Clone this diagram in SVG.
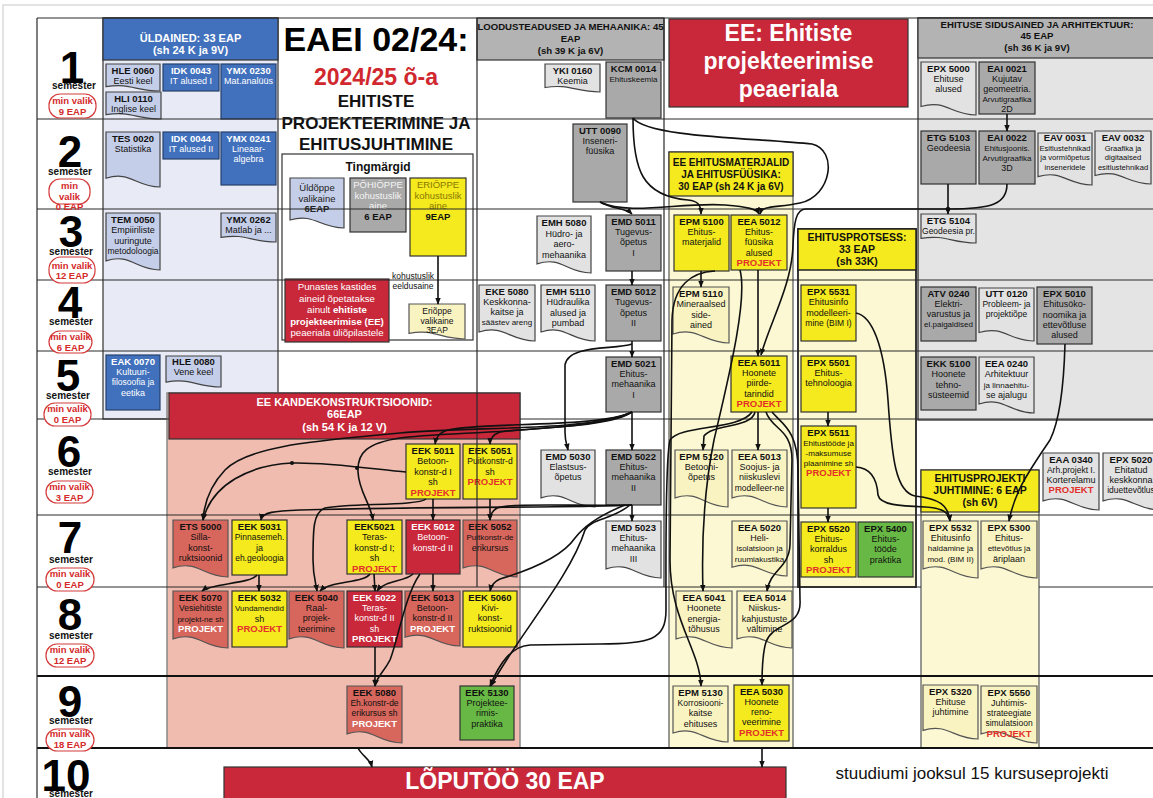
<svg xmlns="http://www.w3.org/2000/svg" width="1153" height="798" viewBox="0 0 1153 798">
<style>
text{font-family:"Liberation Sans",Arial,sans-serif}
.n{font-size:9px;text-anchor:middle;fill:#111}
.b{font-weight:bold;font-size:9.5px}
.s{font-size:8px}
.w{fill:#fff}
.pr{fill:#e3302b;font-weight:bold;font-size:9.5px}
.pw{fill:#fff;font-weight:bold;font-size:9.5px}
.hd{font-weight:bold;text-anchor:middle;fill:#111}
.blue{fill:#4171bd;stroke:#27406a;stroke-width:1.2}
.lav{fill:#c5cee8;stroke:#444;stroke-width:1.2}
.gray{fill:#a9a9a9;stroke:#333;stroke-width:1.2}
.lgray{fill:#e2e2e2;stroke:#444;stroke-width:1.2}
.yel{fill:#f4ea1e;stroke:#333;stroke-width:1.2}
.lyel{fill:#f9f3c2;stroke:#555;stroke-width:1.2}
.red{fill:#c8283a;stroke:#333;stroke-width:1.2}
.sal{fill:#d7665c;stroke:#555;stroke-width:1.2}
.grn{fill:#67b844;stroke:#333;stroke-width:1.2}
.gl{stroke:#2a2a2a;stroke-width:1.2;fill:none}
.gt{stroke:#111;stroke-width:2.2;fill:none}
.dg{font-size:44px;font-weight:bold;text-anchor:middle;fill:#000}
.sm{font-size:10px;font-weight:bold;text-anchor:middle;fill:#111}
.pill{fill:#fff;stroke:#d43a3a;stroke-width:1.2}
.pt{font-size:9.5px;font-weight:bold;text-anchor:middle;fill:#d42a2a}
.c{fill:none;stroke:#111;stroke-width:1.6;marker-end:url(#ah)}
</style>
<defs>
<symbol id="doc" viewBox="0 0 100 100" preserveAspectRatio="none" overflow="visible">
<path d="M0,0 H100 V100 C55,100 45,70 0,84 Z" vector-effect="non-scaling-stroke"/>
</symbol>
<marker id="ah" viewBox="0 0 10 10" refX="9" refY="5" markerWidth="7" markerHeight="7" markerUnits="userSpaceOnUse" orient="auto"><path d="M0,1 L10,5 L0,9 z" fill="#111"/></marker>
</defs>
<rect x="0" y="0" width="1153" height="798" fill="#fff"/>
<rect x="3" y="5" width="1160" height="800" fill="none" stroke="#d0d0d0" stroke-width="1.2"/>

<g id="regions">
<rect x="103" y="18" width="175" height="401" fill="#e8ebf6" stroke="#333" stroke-width="1.2"/>
<rect x="918" y="18" width="240" height="402" fill="#e4e4e4" stroke="#333" stroke-width="1.3"/>
<rect x="669" y="152" width="124" height="596" fill="#fbf8d3" stroke="#555" stroke-width="1.2"/>
<rect x="798" y="229" width="118" height="358" fill="#fbf8d3" stroke="#222" stroke-width="1.8"/>
<rect x="921" y="470" width="118" height="278" fill="#fbf8d3" stroke="#555" stroke-width="1.2"/>
<rect x="167" y="393" width="353" height="355" fill="#efbcaf" stroke="#888" stroke-width="1.5"/>
<rect x="282" y="154" width="191" height="186" fill="#fff" stroke="#333" stroke-width="1.2"/>
</g>

<g id="hdr-uldained"><rect x="103" y="18" width="175" height="42" fill="#4171bd" stroke="#333" stroke-width="1.2"/>
<text class="hd" x="190.5" y="42" font-size="11" style="fill:#fff">ÜLDAINED: 33 EAP</text>
<text class="hd" x="190.5" y="54" font-size="11" style="fill:#fff">(sh 24 K ja 9V)</text></g>
<g id="hdr-loodus"><rect x="477" y="18" width="187" height="42" fill="#b3b3b3" stroke="#333" stroke-width="1.2"/>
<text class="hd" x="570.5" y="30" font-size="9.6">LOODUSTEADUSED JA MEHAANIKA: 45</text>
<text class="hd" x="570.5" y="42" font-size="9.6">EAP</text>
<text class="hd" x="570.5" y="54" font-size="9.6">(sh 39 K ja 6V)</text></g>
<g id="hdr-ee"><rect x="669" y="19" width="239" height="88" fill="#c8283a" stroke="#333" stroke-width="1.2"/>
<text class="hd" x="788.5" y="41" font-size="23" style="fill:#fff">EE: Ehitiste</text>
<text class="hd" x="788.5" y="69" font-size="23" style="fill:#fff">projekteerimise</text>
<text class="hd" x="788.5" y="97" font-size="23" style="fill:#fff">peaeriala</text></g>
<g id="hdr-sidus"><rect x="918" y="18" width="240" height="40" fill="#b3b3b3" stroke="#333" stroke-width="1.2"/>
<text class="hd" x="1037" y="28" font-size="9.6">EHITUSE SIDUSAINED JA ARHITEKTUUR:</text>
<text class="hd" x="1037" y="39" font-size="9.6">45 EAP</text>
<text class="hd" x="1037" y="51" font-size="9.6">(sh 36 K ja 9V)</text></g>
<g id="hdr-mat"><rect x="669" y="152" width="124" height="44" fill="#f4ea1e" stroke="#333" stroke-width="1.2"/>
<text class="hd" x="731" y="166" font-size="10">EE EHITUSMATERJALID</text>
<text class="hd" x="731" y="178" font-size="10">JA EHITUSFÜÜSIKA:</text>
<text class="hd" x="731" y="190" font-size="10">30 EAP (sh 24 K ja 6V)</text></g>
<g id="hdr-protsess"><rect x="798" y="229" width="118" height="41" fill="#f4ea1e" stroke="#222" stroke-width="1.5"/>
<text class="hd" x="857" y="241" font-size="10.5">EHITUSPROTSESS:</text>
<text class="hd" x="857" y="253" font-size="10.5">33 EAP</text>
<text class="hd" x="857" y="265" font-size="10.5">(sh 33K)</text></g>
<g id="hdr-juht"><rect x="921" y="470" width="118" height="42" fill="#f4ea1e" stroke="#333" stroke-width="1.2"/>
<text class="hd" x="980" y="482" font-size="10.5">EHITUSPROJEKTI</text>
<text class="hd" x="980" y="494" font-size="10.5">JUHTIMINE: 6 EAP</text>
<text class="hd" x="980" y="506" font-size="10.5">(sh 6V)</text></g>

<g id="title">
<text class="hd" x="376" y="51" font-size="34" style="fill:#000">EAEI 02/24:</text>
<text class="hd" x="376" y="85" font-size="23" style="fill:#d0282e">2024/25 õ-a</text>
<text class="hd" x="376" y="107" font-size="17">EHITISTE</text>
<text class="hd" x="376" y="129" font-size="17">PROJEKTEERIMINE JA</text>
<text class="hd" x="376" y="150" font-size="17">EHITUSJUHTIMINE</text>
</g>

<g id="legend">
<text class="hd" x="378" y="171" font-size="12">Tingmärgid</text>
<g id="lg-uld"><use href="#doc" class="lav" x="290" y="178" width="54" height="50"/>
<text class="n" x="317" y="191" style="font-size:9.5px;fill:#222">Üldõppe<tspan x="317" dy="10.5">valikaine</tspan><tspan x="317" dy="10.5" font-weight="bold">6EAP</tspan></text></g>
<g id="lg-pohi"><rect class="gray" x="350" y="178" width="56" height="54"/>
<text class="n" x="378" y="188" style="font-size:9.5px;fill:#f4f4f4">PÕHIÕPPE<tspan x="378" dy="10.5">kohustuslik</tspan><tspan x="378" dy="10.5">aine</tspan><tspan x="378" dy="10.5" font-weight="bold" style="fill:#111">6 EAP</tspan></text></g>
<g id="lg-eri"><rect class="yel" x="410" y="178" width="56" height="78"/>
<text class="n" x="438" y="188" style="font-size:9.5px;fill:#8a7800">ERIÕPPE<tspan x="438" dy="10.5">kohustuslik</tspan><tspan x="438" dy="10.5">aine</tspan><tspan x="438" dy="10.5" font-weight="bold" style="fill:#111">9EAP</tspan></text></g>
<g id="lg-erival"><use href="#doc" class="lyel" x="409" y="304" width="56" height="35"/>
<text class="n" x="437" y="314" style="font-size:8.5px">Eriõppe<tspan x="437" dy="9.5">valikaine</tspan><tspan x="437" dy="9.5">3EAP</tspan></text></g>
<text class="n" x="413" y="279" style="font-size:8.5px">kohustuslik<tspan x="413" dy="10">eeldusaine</tspan></text>
<g id="lg-red"><rect class="red" x="285" y="279" width="104" height="63"/>
<text class="n" x="337" y="290" style="font-size:9.7px;fill:#fff">Punastes kastides<tspan x="337" dy="11.5">aineid õpetatakse</tspan><tspan x="337" dy="11.5">ainult <tspan font-weight="bold">ehitiste</tspan></tspan><tspan x="337" dy="11.5" font-weight="bold">projekteerimise (EE)</tspan><tspan x="337" dy="11.5">peaeriala üliõpilastele</tspan></text></g>
</g>

<g id="hdr-kande"><rect x="169" y="393" width="351" height="46" fill="#c8283a" stroke="#333" stroke-width="1.2"/>
<text class="hd" x="344.5" y="406" font-size="11" style="fill:#fff">EE KANDEKONSTRUKTSIOONID:</text>
<text class="hd" x="344.5" y="418" font-size="11" style="fill:#fff">66EAP</text>
<text class="hd" x="344.5" y="431" font-size="11" style="fill:#fff">(sh 54 K ja 12 V)</text></g>

<g id="nodes">
<g id="HLE0060"><use href="#doc" class="lav" x="106" y="64" width="54" height="27"/><text class="n" x="133" y="74"><tspan class="b">HLE 0060</tspan><tspan x="133" dy="10.3">Eesti keel</tspan></text></g>
<g id="HLI0110"><use href="#doc" class="lav" x="106" y="92" width="55" height="27"/><text class="n" x="133.5" y="101.5"><tspan class="b">HLI 0110</tspan><tspan x="133.5" dy="10.3">Inglise keel</tspan></text></g>
<g id="IDK0043"><rect class="blue" x="163" y="64" width="56" height="27"/><text class="n w" x="191" y="74"><tspan class="b">IDK 0043</tspan><tspan x="191" dy="10.3">IT alused I</tspan></text></g>
<g id="YMX0230"><rect class="blue" x="221" y="64" width="55" height="55"/><text class="n w" x="248.5" y="74"><tspan class="b">YMX 0230</tspan><tspan x="248.5" dy="10.3">Mat.analüüs</tspan></text></g>
<g id="YKI0160"><use href="#doc" class="lgray" x="545" y="64" width="55" height="28"/><text class="n" x="572.5" y="73.5"><tspan class="b">YKI 0160</tspan><tspan x="572.5" dy="10.3">Keemia</tspan></text></g>
<g id="KCM0014"><rect class="gray" x="606" y="62" width="55" height="56"/><text class="n" x="633.5" y="72"><tspan class="b">KCM 0014</tspan><tspan x="633.5" dy="10.3" class="s">Ehituskeemia</tspan></text></g>
<g id="EPX5000"><use href="#doc" class="lgray" x="921" y="62" width="55" height="53"/><text class="n" x="948.5" y="71.5"><tspan class="b">EPX 5000</tspan><tspan x="948.5" dy="10.3">Ehituse</tspan><tspan x="948.5" dy="10.3">alused</tspan></text></g>
<g id="EAI0021"><rect class="gray" x="979" y="62" width="56" height="52"/><text class="n" x="1007" y="71.5"><tspan class="b">EAI 0021</tspan><tspan x="1007" dy="10.2">Kujutav</tspan><tspan x="1007" dy="10.2">geomeetria.</tspan><tspan x="1007" dy="10.2" class="s">Arvutigraafika</tspan><tspan x="1007" dy="10.2">2D</tspan></text></g>

<g id="TES0020"><use href="#doc" class="lav" x="106" y="132" width="54" height="55"/><text class="n" x="133" y="141.5"><tspan class="b">TES 0020</tspan><tspan x="133" dy="10.3">Statistika</tspan></text></g>
<g id="IDK0044"><rect class="blue" x="163" y="132" width="56" height="27"/><text class="n w" x="191" y="141.5"><tspan class="b">IDK 0044</tspan><tspan x="191" dy="10.3">IT alused II</tspan></text></g>
<g id="YMX0241"><rect class="blue" x="221" y="132" width="55" height="53"/><text class="n w" x="248.5" y="141.5"><tspan class="b">YMX 0241</tspan><tspan x="248.5" dy="10.3">Lineaar-</tspan><tspan x="248.5" dy="10.3">algebra</tspan></text></g>
<g id="UTT0090"><rect class="gray" x="573" y="124" width="54" height="78"/><text class="n" x="600" y="133.5"><tspan class="b">UTT 0090</tspan><tspan x="600" dy="10.3">Inseneri-</tspan><tspan x="600" dy="10.3">füüsika</tspan></text></g>
<g id="ETG5103"><rect class="gray" x="921" y="131" width="55" height="53"/><text class="n" x="948.5" y="140.5"><tspan class="b">ETG 5103</tspan><tspan x="948.5" dy="10.3">Geodeesia</tspan></text></g>
<g id="EAI0022"><rect class="gray" x="979" y="131" width="56" height="53"/><text class="n" x="1007" y="140.5"><tspan class="b">EAI 0022</tspan><tspan x="1007" dy="10.3" class="s">Ehitusjoonis.</tspan><tspan x="1007" dy="10.3" class="s">Arvutigraafika</tspan><tspan x="1007" dy="10.3">3D</tspan></text></g>
<g id="EAV0031"><use href="#doc" class="lgray" x="1038" y="133" width="54" height="52"/><text class="n" x="1065" y="141"><tspan class="b">EAV 0031</tspan><tspan x="1065" dy="9.6" style="font-size:7.6px">Esitlustehnikad</tspan><tspan x="1065" dy="9.6" style="font-size:7.6px">ja vormiõpetus</tspan><tspan x="1065" dy="9.6" style="font-size:7.6px">inseneridele</tspan></text></g>
<g id="EAV0032"><use href="#doc" class="lgray" x="1095" y="131" width="56" height="53"/><text class="n" x="1123" y="141"><tspan class="b">EAV 0032</tspan><tspan x="1123" dy="9.6" style="font-size:7.6px">Graafika ja</tspan><tspan x="1123" dy="9.6" style="font-size:7.6px">digitaalsed</tspan><tspan x="1123" dy="9.6" style="font-size:7.6px">esitlustehnikad</tspan></text></g>

<g id="TEM0050"><use href="#doc" class="lav" x="106" y="213" width="54" height="57"/><text class="n" x="133" y="223"><tspan class="b">TEM 0050</tspan><tspan x="133" dy="10.4">Empiiriliste</tspan><tspan x="133" dy="10.4">uuringute</tspan><tspan x="133" dy="10.4" style="font-size:8.5px">metodoloogia</tspan></text></g>
<g id="YMX0262"><use href="#doc" class="lav" x="221" y="213" width="55" height="29"/><text class="n" x="248.5" y="223"><tspan class="b">YMX 0262</tspan><tspan x="248.5" dy="10.4">Matlab ja ...</tspan></text></g>
<g id="EMH5080"><use href="#doc" class="lgray" x="537" y="216" width="54" height="57"/><text class="n" x="564" y="226"><tspan class="b">EMH 5080</tspan><tspan x="564" dy="10.5">Hüdro- ja</tspan><tspan x="564" dy="10.5">aero-</tspan><tspan x="564" dy="10.5">mehaanika</tspan></text></g>
<g id="EMD5011"><rect class="gray" x="606" y="215" width="55" height="56"/><text class="n" x="633.5" y="224.5"><tspan class="b">EMD 5011</tspan><tspan x="633.5" dy="10.4">Tugevus-</tspan><tspan x="633.5" dy="10.4">õpetus</tspan><tspan x="633.5" dy="10.4">I</tspan></text></g>
<g id="EPM5100"><rect class="yel" x="674" y="215" width="55" height="56"/><text class="n" x="701.5" y="224.5"><tspan class="b">EPM 5100</tspan><tspan x="701.5" dy="10.4">Ehitus-</tspan><tspan x="701.5" dy="10.4">materjalid</tspan></text></g>
<g id="EEA5012"><rect class="yel" x="731" y="215" width="56" height="55"/><text class="n" x="759" y="224.5"><tspan class="b">EEA 5012</tspan><tspan x="759" dy="10.4">Ehitus-</tspan><tspan x="759" dy="10.4">füüsika</tspan><tspan x="759" dy="10.4">alused</tspan><tspan x="759" dy="10.4" class="pr">PROJEKT</tspan></text></g>
<g id="ETG5104"><use href="#doc" class="lgray" x="921" y="214" width="55" height="29"/><text class="n" x="948.5" y="224"><tspan class="b">ETG 5104</tspan><tspan x="948.5" dy="10.4" style="font-size:8.5px">Geodeesia pr.</tspan></text></g>

<g id="EKE5080"><use href="#doc" class="lgray" x="479" y="285" width="56" height="56"/><text class="n" x="507" y="295"><tspan class="b">EKE 5080</tspan><tspan x="507" dy="10">Keskkonna-</tspan><tspan x="507" dy="10">kaitse ja</tspan><tspan x="507" dy="10" class="s">säästev areng</tspan></text></g>
<g id="EMH5110"><use href="#doc" class="lgray" x="541" y="285" width="54" height="56"/><text class="n" x="568" y="295"><tspan class="b">EMH 5110</tspan><tspan x="568" dy="10.3">Hüdraulika</tspan><tspan x="568" dy="10.3">alused ja</tspan><tspan x="568" dy="10.3">pumbad</tspan></text></g>
<g id="EMD5012"><rect class="gray" x="606" y="285" width="55" height="56"/><text class="n" x="633.5" y="295"><tspan class="b">EMD 5012</tspan><tspan x="633.5" dy="10.4">Tugevus-</tspan><tspan x="633.5" dy="10.4">õpetus</tspan><tspan x="633.5" dy="10.4">II</tspan></text></g>
<g id="EPM5110"><use href="#doc" class="lyel" x="673" y="287" width="56" height="56"/><text class="n" x="701" y="297"><tspan class="b">EPM 5110</tspan><tspan x="701" dy="10.4">Mineraalsed</tspan><tspan x="701" dy="10.4">side-</tspan><tspan x="701" dy="10.4">ained</tspan></text></g>
<g id="EPX5531"><rect class="yel" x="801" y="285" width="55" height="56"/><text class="n" x="828.5" y="295"><tspan class="b">EPX 5531</tspan><tspan x="828.5" dy="10.4">Ehitusinfo</tspan><tspan x="828.5" dy="10.4">modelleeri-</tspan><tspan x="828.5" dy="10.4" style="font-size:8.5px">mine (BIM I)</tspan></text></g>
<g id="ATV0240"><rect class="gray" x="921" y="287" width="55" height="54"/><text class="n" x="948.5" y="296.5"><tspan class="b">ATV 0240</tspan><tspan x="948.5" dy="10.2">Elektri-</tspan><tspan x="948.5" dy="10.2">varustus ja</tspan><tspan x="948.5" dy="10.2" class="s">el.paigaldised</tspan></text></g>
<g id="UTT0120"><use href="#doc" class="lgray" x="979" y="288" width="55" height="53"/><text class="n" x="1006.5" y="297"><tspan class="b">UTT 0120</tspan><tspan x="1006.5" dy="10.2" style="font-size:8.5px">Probleem- ja</tspan><tspan x="1006.5" dy="10.2" style="font-size:8.5px">projektiõpe</tspan></text></g>
<g id="EPX5010"><rect class="gray" x="1037" y="287" width="55" height="57"/><text class="n" x="1064.5" y="297"><tspan class="b">EPX 5010</tspan><tspan x="1064.5" dy="10.3">Ehitusöko-</tspan><tspan x="1064.5" dy="10.3">noomika ja</tspan><tspan x="1064.5" dy="10.3">ettevõtluse</tspan><tspan x="1064.5" dy="10.3">alused</tspan></text></g>

<g id="EAK0070"><rect class="blue" x="106" y="355" width="54" height="55"/><text class="n w" x="133" y="364.5"><tspan class="b">EAK 0070</tspan><tspan x="133" dy="10.4">Kultuuri-</tspan><tspan x="133" dy="10.4" style="font-size:8.5px">filosoofia ja</tspan><tspan x="133" dy="10.4">eetika</tspan></text></g>
<g id="HLE0080"><use href="#doc" class="lav" x="166" y="356" width="55" height="31"/><text class="n" x="193.5" y="364.5"><tspan class="b">HLE 0080</tspan><tspan x="193.5" dy="10.4">Vene keel</tspan></text></g>
<g id="EMD5021"><rect class="gray" x="606" y="357" width="55" height="55"/><text class="n" x="633.5" y="366.5"><tspan class="b">EMD 5021</tspan><tspan x="633.5" dy="10.4">Ehitus-</tspan><tspan x="633.5" dy="10.4">mehaanika</tspan><tspan x="633.5" dy="10.4">I</tspan></text></g>
<g id="EEA5011"><rect class="yel" x="731" y="356" width="56" height="56"/><text class="n" x="759" y="365.5"><tspan class="b">EEA 5011</tspan><tspan x="759" dy="10.4">Hoonete</tspan><tspan x="759" dy="10.4">piirde-</tspan><tspan x="759" dy="10.4">tarindid</tspan><tspan x="759" dy="10.4" class="pr">PROJEKT</tspan></text></g>
<g id="EPX5501"><rect class="yel" x="801" y="356" width="55" height="56"/><text class="n" x="828.5" y="365.5"><tspan class="b">EPX 5501</tspan><tspan x="828.5" dy="10.4">Ehitus-</tspan><tspan x="828.5" dy="10.4">tehnoloogia</tspan></text></g>
<g id="EKK5100"><rect class="gray" x="921" y="357" width="55" height="53"/><text class="n" x="948.5" y="367"><tspan class="b">EKK 5100</tspan><tspan x="948.5" dy="10.4">Hoonete</tspan><tspan x="948.5" dy="10.4">tehno-</tspan><tspan x="948.5" dy="10.4">süsteemid</tspan></text></g>
<g id="EEA0240"><use href="#doc" class="lgray" x="979" y="357" width="55" height="56"/><text class="n" x="1006.5" y="367"><tspan class="b">EEA 0240</tspan><tspan x="1006.5" dy="10.4">Arhitektuur</tspan><tspan x="1006.5" dy="10.4" class="s">ja linnaehitu-</tspan><tspan x="1006.5" dy="10.4">se ajalugu</tspan></text></g>

<g id="EEK5011"><rect class="yel" x="406" y="444" width="54" height="55"/><text class="n" x="433" y="454"><tspan class="b">EEK 5011</tspan><tspan x="433" dy="10.4">Betoon-</tspan><tspan x="433" dy="10.4">konstr-d I</tspan><tspan x="433" dy="10.4">sh</tspan><tspan x="433" dy="10.4" class="pr">PROJEKT</tspan></text></g>
<g id="EEK5051"><rect class="yel" x="463" y="444" width="54" height="55"/><text class="n" x="490" y="454"><tspan class="b">EEK 5051</tspan><tspan x="490" dy="10.4" style="font-size:8.5px">Puitkonstr-d</tspan><tspan x="490" dy="10.4">sh</tspan><tspan x="490" dy="10.4" class="pr">PROJEKT</tspan></text></g>
<g id="EMD5030"><use href="#doc" class="lgray" x="541" y="450" width="54" height="57"/><text class="n" x="568" y="459.5"><tspan class="b">EMD 5030</tspan><tspan x="568" dy="10.4">Elastsus-</tspan><tspan x="568" dy="10.4">õpetus</tspan></text></g>
<g id="EMD5022"><rect class="gray" x="606" y="450" width="55" height="55"/><text class="n" x="633.5" y="459.5"><tspan class="b">EMD 5022</tspan><tspan x="633.5" dy="10.4">Ehitus-</tspan><tspan x="633.5" dy="10.4">mehaanika</tspan><tspan x="633.5" dy="10.4">II</tspan></text></g>
<g id="EPM5120"><use href="#doc" class="lyel" x="675" y="450" width="53" height="57"/><text class="n" x="701.5" y="459.5"><tspan class="b">EPM 5120</tspan><tspan x="701.5" dy="10.4">Betooni-</tspan><tspan x="701.5" dy="10.4">õpetus</tspan></text></g>
<g id="EEA5013"><use href="#doc" class="lyel" x="732" y="450" width="55" height="57"/><text class="n" x="759.5" y="459.5"><tspan class="b">EEA 5013</tspan><tspan x="759.5" dy="10.4">Soojus- ja</tspan><tspan x="759.5" dy="10.4">niiskuslevi</tspan><tspan x="759.5" dy="10.4" style="font-size:8.5px">modelleer-ne</tspan></text></g>
<g id="EPX5511"><rect class="yel" x="801" y="426" width="55" height="82"/><text class="n" x="828.5" y="436"><tspan class="b">EPX 5511</tspan><tspan x="828.5" dy="10" class="s">Ehitustööde ja</tspan><tspan x="828.5" dy="10" class="s">-maksumuse</tspan><tspan x="828.5" dy="10" class="s">plaanimine sh</tspan><tspan x="828.5" dy="10.4" class="pr">PROJEKT</tspan></text></g>
<g id="EAA0340"><use href="#doc" class="lgray" x="1043" y="453" width="56" height="57"/><text class="n" x="1071" y="462.5"><tspan class="b">EAA 0340</tspan><tspan x="1071" dy="10.2" style="font-size:8.5px">Arh.projekt I.</tspan><tspan x="1071" dy="10.2">Korterelamu</tspan><tspan x="1071" dy="10.4" class="pr">PROJEKT</tspan></text></g>
<g id="EPX5020"><use href="#doc" class="lgray" x="1103" y="453" width="57" height="57"/><text class="n" x="1131" y="462.5"><tspan class="b">EPX 5020</tspan><tspan x="1131" dy="10.2">Ehitatud</tspan><tspan x="1131" dy="10.2">keskkonna</tspan><tspan x="1131" dy="10.2" style="font-size:8.5px">iduettevõtlus</tspan></text></g>

<g id="ETS5000"><use href="#doc" class="sal" x="173" y="520" width="55" height="57"/><text class="n" x="200.5" y="530"><tspan class="b">ETS 5000</tspan><tspan x="200.5" dy="10.4">Silla-</tspan><tspan x="200.5" dy="10.4">konst-</tspan><tspan x="200.5" dy="10.4">ruktsioonid</tspan></text></g>
<g id="EEK5031"><rect class="yel" x="232" y="520" width="55" height="55"/><text class="n" x="259.5" y="530"><tspan class="b">EEK 5031</tspan><tspan x="259.5" dy="10.4" style="font-size:8.5px">Pinnasemeh.</tspan><tspan x="259.5" dy="10.4">ja</tspan><tspan x="259.5" dy="10.4" style="font-size:8.5px">eh.geoloogia</tspan></text></g>
<g id="EEK5021"><rect class="yel" x="347" y="520" width="55" height="54"/><text class="n" x="374.5" y="530"><tspan class="b">EEK5021</tspan><tspan x="374.5" dy="10.4">Teras-</tspan><tspan x="374.5" dy="10.4">konstr-d I;</tspan><tspan x="374.5" dy="10.4">sh</tspan><tspan x="374.5" dy="10.4" class="pr">PROJEKT</tspan></text></g>
<g id="EEK5012"><rect class="red" x="406" y="520" width="54" height="54"/><text class="n w" x="433" y="530"><tspan class="b">EEK 5012</tspan><tspan x="433" dy="10.4">Betoon-</tspan><tspan x="433" dy="10.4">konstr-d II</tspan></text></g>
<g id="EEK5052"><use href="#doc" class="sal" x="463" y="520" width="54" height="57"/><text class="n" x="490" y="530"><tspan class="b">EEK 5052</tspan><tspan x="490" dy="10.4" class="s">Puitkonstr-de</tspan><tspan x="490" dy="10.4">erikursus</tspan></text></g>
<g id="EMD5023"><use href="#doc" class="lgray" x="606" y="521" width="55" height="57"/><text class="n" x="633.5" y="530.5"><tspan class="b">EMD 5023</tspan><tspan x="633.5" dy="10.4">Ehitus-</tspan><tspan x="633.5" dy="10.4">mehaanika</tspan><tspan x="633.5" dy="10.4">III</tspan></text></g>
<g id="EEA5020"><use href="#doc" class="lyel" x="732" y="521" width="55" height="55"/><text class="n" x="759.5" y="530.5"><tspan class="b">EEA 5020</tspan><tspan x="759.5" dy="10.4">Heli-</tspan><tspan x="759.5" dy="10.4" class="s">isolatsioon ja</tspan><tspan x="759.5" dy="10.4" class="s">ruumiakustika</tspan></text></g>
<g id="EPX5520"><rect class="yel" x="801" y="522" width="55" height="55"/><text class="n" x="828.5" y="531.5"><tspan class="b">EPX 5520</tspan><tspan x="828.5" dy="10.4">Ehitus-</tspan><tspan x="828.5" dy="10.4">korraldus</tspan><tspan x="828.5" dy="10.4">sh</tspan><tspan x="828.5" dy="10.4" class="pr">PROJEKT</tspan></text></g>
<g id="EPX5400"><rect class="grn" x="858" y="522" width="55" height="55"/><text class="n" x="885.5" y="531.5"><tspan class="b">EPX 5400</tspan><tspan x="885.5" dy="10.4">Ehitus-</tspan><tspan x="885.5" dy="10.4">tööde</tspan><tspan x="885.5" dy="10.4">praktika</tspan></text></g>
<g id="EPX5532"><use href="#doc" class="lyel" x="923" y="521" width="55" height="57"/><text class="n" x="950.5" y="530.5"><tspan class="b">EPX 5532</tspan><tspan x="950.5" dy="10.4">Ehitusinfo</tspan><tspan x="950.5" dy="10.4" class="s">haldamine ja</tspan><tspan x="950.5" dy="10.4" class="s">mod. (BIM II)</tspan></text></g>
<g id="EPX5300"><use href="#doc" class="lyel" x="981" y="521" width="56" height="57"/><text class="n" x="1009" y="530.5"><tspan class="b">EPX 5300</tspan><tspan x="1009" dy="10.4">Ehitus-</tspan><tspan x="1009" dy="10.4" class="s">ettevõtlus ja</tspan><tspan x="1009" dy="10.4">äriplaan</tspan></text></g>

<g id="EEK5070"><use href="#doc" class="sal" x="173" y="591" width="55" height="57"/><text class="n" x="200.5" y="601"><tspan class="b">EEK 5070</tspan><tspan x="200.5" dy="10.4" style="font-size:8.5px">Vesiehitiste</tspan><tspan x="200.5" dy="10.4" class="s">projekt-ne sh</tspan><tspan x="200.5" dy="10.4" class="pw">PROJEKT</tspan></text></g>
<g id="EEK5032"><rect class="yel" x="232" y="591" width="55" height="56"/><text class="n" x="259.5" y="601"><tspan class="b">EEK 5032</tspan><tspan x="259.5" dy="10.4" class="s">Vundamendid</tspan><tspan x="259.5" dy="10.4">sh</tspan><tspan x="259.5" dy="10.4" class="pr">PROJEKT</tspan></text></g>
<g id="EEK5040"><use href="#doc" class="sal" x="289" y="591" width="55" height="57"/><text class="n" x="316.5" y="600.5"><tspan class="b">EEK 5040</tspan><tspan x="316.5" dy="10.4">Raal-</tspan><tspan x="316.5" dy="10.4">projek-</tspan><tspan x="316.5" dy="10.4">teerimine</tspan></text></g>
<g id="EEK5022"><rect class="red" x="347" y="591" width="55" height="56"/><text class="n w" x="374.5" y="600.5"><tspan class="b">EEK 5022</tspan><tspan x="374.5" dy="10.4">Teras-</tspan><tspan x="374.5" dy="10.4">konstr-d II</tspan><tspan x="374.5" dy="10.4">sh</tspan><tspan x="374.5" dy="10.4" class="pw">PROJEKT</tspan></text></g>
<g id="EEK5013"><use href="#doc" class="sal" x="405" y="591" width="55" height="55"/><text class="n" x="432.5" y="600.5"><tspan class="b">EEK 5013</tspan><tspan x="432.5" dy="10.4">Betoon-</tspan><tspan x="432.5" dy="10.4">konstr-d II</tspan><tspan x="432.5" dy="10.4" class="pw">PROJEKT</tspan></text></g>
<g id="EEK5060"><rect class="yel" x="463" y="591" width="54" height="56"/><text class="n" x="490" y="600.5"><tspan class="b">EEK 5060</tspan><tspan x="490" dy="10.4">Kivi-</tspan><tspan x="490" dy="10.4">konst-</tspan><tspan x="490" dy="10.4">ruktsioonid</tspan></text></g>
<g id="EEA5041"><use href="#doc" class="lyel" x="676" y="591" width="56" height="57"/><text class="n" x="704" y="601"><tspan class="b">EEA 5041</tspan><tspan x="704" dy="10.4">Hoonete</tspan><tspan x="704" dy="10.4">energia-</tspan><tspan x="704" dy="10.4">tõhusus</tspan></text></g>
<g id="EEA5014"><use href="#doc" class="lyel" x="737" y="591" width="55" height="57"/><text class="n" x="764.5" y="601"><tspan class="b">EEA 5014</tspan><tspan x="764.5" dy="10.4">Niiskus-</tspan><tspan x="764.5" dy="10.4">kahjustuste</tspan><tspan x="764.5" dy="10.4">vältimine</tspan></text></g>

<g id="EEK5080"><use href="#doc" class="sal" x="347" y="686" width="55" height="57"/><text class="n" x="374.5" y="695.5"><tspan class="b">EEK 5080</tspan><tspan x="374.5" dy="10.4" style="font-size:8.5px">Eh.konstr-de</tspan><tspan x="374.5" dy="10.4" style="font-size:8.5px">erikursus sh</tspan><tspan x="374.5" dy="10.4" class="pw">PROJEKT</tspan></text></g>
<g id="EEK5130"><rect class="grn" x="460" y="686" width="54" height="54"/><text class="n" x="487" y="695.5"><tspan class="b">EEK 5130</tspan><tspan x="487" dy="10.4">Projektee-</tspan><tspan x="487" dy="10.4">rimis-</tspan><tspan x="487" dy="10.4">praktika</tspan></text></g>
<g id="EPM5130"><use href="#doc" class="lyel" x="673" y="686" width="55" height="56"/><text class="n" x="700.5" y="695.5"><tspan class="b">EPM 5130</tspan><tspan x="700.5" dy="10.4" style="font-size:8.5px">Korrosiooni-</tspan><tspan x="700.5" dy="10.4">kaitse</tspan><tspan x="700.5" dy="10.4">ehituses</tspan></text></g>
<g id="EEA5030"><rect class="yel" x="734" y="685" width="55" height="56"/><text class="n" x="761.5" y="694.5"><tspan class="b">EEA 5030</tspan><tspan x="761.5" dy="10.3">Hoonete</tspan><tspan x="761.5" dy="10.3">reno-</tspan><tspan x="761.5" dy="10.3">veerimine</tspan><tspan x="761.5" dy="10.3" class="pr">PROJEKT</tspan></text></g>
<g id="EPX5320"><use href="#doc" class="lyel" x="923" y="685" width="55" height="54"/><text class="n" x="950.5" y="694.5"><tspan class="b">EPX 5320</tspan><tspan x="950.5" dy="10.4">Ehituse</tspan><tspan x="950.5" dy="10.4">juhtimine</tspan></text></g>
<g id="EPX5550"><use href="#doc" class="lyel" x="981" y="686" width="56" height="57"/><text class="n" x="1009" y="695.5"><tspan class="b">EPX 5550</tspan><tspan x="1009" dy="10.3">Juhtimis-</tspan><tspan x="1009" dy="10.3" style="font-size:8.5px">strateegiate</tspan><tspan x="1009" dy="10.3" style="font-size:8.5px">simulatsioon</tspan><tspan x="1009" dy="10.3" class="pr">PROJEKT</tspan></text></g>

<g id="LOPUTOO"><rect class="red" x="224" y="767" width="562" height="40"/><text class="hd" x="505" y="789" font-size="23" style="fill:#fff">LÕPUTÖÖ 30 EAP</text></g>
</g>

<text x="972" y="779" font-size="17" text-anchor="middle" fill="#111">stuudiumi jooksul 15 kursuseprojekti</text>

<g id="grid">
<path class="gl" d="M37,18 H1153"/>
<path class="gl" d="M37,119 H1153 M37,209 H1153 M37,280 H1153 M37,351 H1153 M37,419 H169 M520,419 H1153 M37,515 H1153 M37,587 H921 M1039,587 H1153"/>
<path class="gt" d="M37,676 H1153 M37,748 H1153"/>
<path class="gl" d="M37,18 V798 M477,18 V587 M664,18 V587"/>
</g>

<g id="semesters">
<text class="dg" x="72" y="83">1</text><text class="sm" x="74" y="89">semester</text>
<rect class="pill" x="49" y="94" width="47" height="24" rx="11"/><text class="pt" x="72.5" y="104">min valik</text><text class="pt" x="72.5" y="114.5">9 EAP</text>
<text class="dg" x="70" y="167">2</text><text class="sm" x="70" y="175">semester</text>
<rect class="pill" x="49" y="179" width="41" height="25" rx="11"/><text class="pt" x="69.5" y="189">min</text><text class="pt" x="69.5" y="199.5">valik</text><text class="pt" x="69.5" y="210">0 EAP</text>
<text class="dg" x="71" y="247">3</text><text class="sm" x="71" y="255">semester</text>
<rect class="pill" x="49" y="257" width="46" height="26" rx="12"/><text class="pt" x="72" y="268.5">min valik</text><text class="pt" x="72" y="279">12 EAP</text>
<text class="dg" x="70" y="318">4</text><text class="sm" x="71" y="325">semester</text>
<rect class="pill" x="49" y="331" width="43" height="22" rx="11"/><text class="pt" x="70.5" y="340">min valik</text><text class="pt" x="70.5" y="350.5">6 EAP</text>
<text class="dg" x="68" y="391">5</text><text class="sm" x="68" y="399">semester</text>
<rect class="pill" x="44" y="403" width="47" height="23" rx="11"/><text class="pt" x="67.5" y="412">min valik</text><text class="pt" x="67.5" y="422.5">0 EAP</text>
<text class="dg" x="69" y="467">6</text><text class="sm" x="70" y="475">semester</text>
<rect class="pill" x="46" y="481" width="47" height="22" rx="11"/><text class="pt" x="69.5" y="490">min valik</text><text class="pt" x="69.5" y="500.5">3 EAP</text>
<text class="dg" x="70" y="553">7</text><text class="sm" x="71" y="563">semester</text>
<rect class="pill" x="46" y="568" width="48" height="23" rx="11"/><text class="pt" x="70" y="577">min valik</text><text class="pt" x="70" y="587.5">0 EAP</text>
<text class="dg" x="70" y="630">8</text><text class="sm" x="71" y="639">semester</text>
<rect class="pill" x="46" y="644" width="48" height="23" rx="11"/><text class="pt" x="70" y="653">min valik</text><text class="pt" x="70" y="663.5">12 EAP</text>
<text class="dg" x="70" y="717">9</text><text class="sm" x="71" y="724">semester</text>
<rect class="pill" x="46" y="729" width="48" height="22" rx="11"/><text class="pt" x="70" y="737">min valik</text><text class="pt" x="70" y="747.5">18 EAP</text>
<text class="dg" x="66" y="791">10</text><text class="sm" x="71" y="797">semester</text>
</g>

<g id="connectors">
<path class="c" d="M438,256 L438,304"/>
<path class="c" d="M633,118 C633,170 642,196 688,200 C698,201 701,205 701,214"/>
<path class="c" d="M633,118 C648,138 760,138 812,144 C838,150 832,196 800,203 C776,208 762,205 760,214"/>
<path class="c" d="M600,202 C612,209 626,208 632,214"/>
<path class="c" d="M600,202 C630,216 680,202 725,205 C748,207 757,209 759,214"/>
<path class="c" d="M1007,114 L1007,131"/>
<path class="c" d="M948,184 L948,214"/>
<path class="c" d="M1007,184 C1007,204 992,209 948,209 L806,209 C796,209 794,222 793,245 C792,285 770,322 761,355"/>
<path class="c" d="M632,271 L632,285"/>
<path class="c" d="M632,341 L632,357"/>
<path class="c" d="M632,344 C615,350 568,344 565,365 L565,432 C565,442 567,445 568,450"/>
<path class="c" d="M632,412 L632,450"/>
<path class="c" d="M632,505 L632,521"/>
<path class="c" d="M701,271 L701,287"/>
<path class="c" d="M758,270 L758,356"/>
<path class="c" d="M758,412 L758,450"/>
<path class="c" d="M755,412 C752,428 712,424 704,436 L703,450"/>
<path class="c" d="M740,270 C748,300 728,380 714,440 C702,500 702,560 703,591"/>
<path class="c" d="M715,271 C692,272 673,285 672,320 L670,560 C670,620 700,650 701,686"/>
<path class="c" d="M766,412 C772,430 792,428 792,460 L790,545 C789,568 770,570 767,591"/>
<path class="c" d="M772,412 C782,424 798,430 798,470 L800,600 C802,628 773,622 766,642 C762,655 762,670 762,685"/>
<path class="c" d="M752,412 C740,430 680,425 670,440 C665,460 666,560 666,610 C666,640 650,644 600,644 L530,645 C512,646 500,662 490,686"/>
<path class="c" d="M828,412 L828,426"/>
<path class="c" d="M828,508 L828,522"/>
<path class="c" d="M856,313 C872,316 884,345 888,400 C892,460 896,492 915,496 C940,499 948,505 950,521"/>
<path class="c" d="M856,467 C872,468 877,480 878,495 C880,505 900,506 925,507 C942,508 949,512 950,521"/>
<path class="c" d="M1065,344 C1064,380 1060,420 1050,440 C1030,470 1015,490 1009,521"/>
<path class="c" d="M632,412 C600,428 480,422 448,430 C438,433 436,438 435,444"/>
<path class="c" d="M632,412 C612,428 520,428 500,432 C492,435 490,439 490,444"/>
<path class="c" d="M632,412 C590,432 470,426 400,433 C330,440 250,444 225,470 C208,488 204,505 203,520"/>
<path class="c" d="M406,472 C380,470 330,462 292,463 C250,465 212,484 203,520"/>
<path class="c" d="M632,412 C598,432 440,432 400,438 C368,443 357,452 358,472 C359,492 370,502 373,520"/>
<path class="c" d="M632,505 C590,508 450,506 300,510 C275,511 262,512 261,520"/>
<path class="c" d="M632,505 C570,506 510,503 497,508 C492,511 490,515 490,520"/>
<path class="c" d="M433,499 L433,520"/>
<path class="c" d="M490,499 L490,520"/>
<path class="c" d="M426,499 C418,506 350,503 325,508 C313,512 313,530 313,560 C313,576 316,584 317,591"/>
<path class="c" d="M370,574 C364,583 330,581 320,591"/>
<path class="c" d="M259,575 L259,591"/>
<path class="c" d="M257,575 C250,584 212,583 202,591"/>
<path class="c" d="M374,574 L375,591"/>
<path class="c" d="M413,574 C405,582 385,580 377,591"/>
<path class="c" d="M433,574 L433,591"/>
<path class="c" d="M420,574 C405,595 398,640 390,660 C384,672 377,676 375,686"/>
<path class="c" d="M375,647 L375,686"/>
<path class="c" d="M625,505 C600,515 585,525 575,538 C560,560 520,573 500,579 C493,582 491,586 490,591"/>
<path class="c" d="M630,505 C612,520 592,518 585,530 C570,578 515,640 491,686"/>
<path class="c" d="M358,748 C362,756 370,759 372,767"/>
<path class="c" d="M762,748 L762,767"/>
<circle cx="948" cy="209" r="2.2" fill="#111"/>
<circle cx="292" cy="463" r="2" fill="#111"/>
<circle cx="357" cy="468" r="2" fill="#111"/>
</g>
</svg>
